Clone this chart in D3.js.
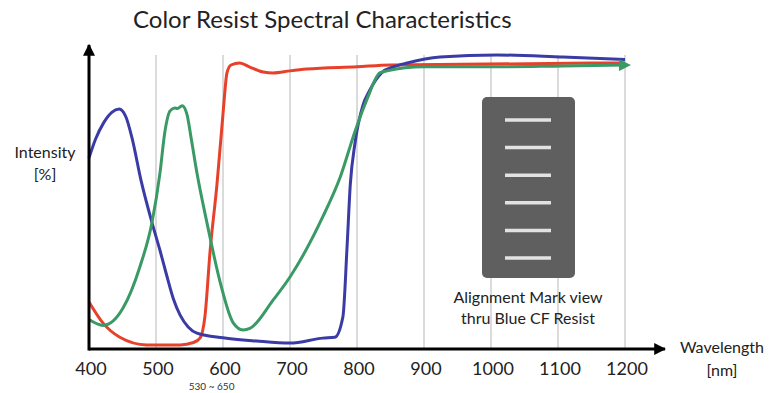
<!DOCTYPE html>
<html>
<head>
<meta charset="utf-8">
<script src="https://cdn.jsdelivr.net/npm/d3@7"></script>
<style>
  body { margin: 0; background: #fff; }
  svg { font-family: Lato, "Open Sans", sans-serif; }
</style>
</head>
<body>
<script>
// wavelengths in nm and intensities in %
const blueNm  = [400, 410, 422, 434, 445, 455, 464, 478, 494, 506, 516, 526, 536, 548, 561, 600, 650, 700, 749, 767, 779, 785, 790, 797, 809, 819, 837, 855, 875, 924, 1009, 1107, 1200]
const blueVal = [65, 71.5, 77, 80.5, 81.6, 79, 72, 57, 43, 33.5, 25, 17, 11.5, 7.5, 5.4, 3.8, 2.7, 2, 3.7, 4, 11, 34, 56, 70, 83, 88, 94, 96, 97.3, 99.3, 100, 99.3, 98.5]

const redNm  = [400, 421, 446, 486, 536, 556, 566, 573, 581, 591, 600, 606, 612, 625, 640, 660, 675, 700, 725, 800, 850, 1200]
const redVal = [16, 8.8, 4, 1.4, 1.4, 2.2, 3.8, 11, 34, 56, 80, 94, 96.6, 97.3, 95.9, 94.2, 93.9, 94.6, 95.2, 96, 96.6, 97.3]

const greenNm  = [400, 421, 451, 476, 494, 506, 513, 521, 528, 532, 539, 546, 553, 561, 576, 596, 615, 630, 640, 675, 700, 749, 775, 797, 815, 834, 845, 899, 1000, 1107, 1200]
const greenVal = [10, 8, 14, 28, 43, 60, 73.5, 81, 82, 81.8, 82.7, 80, 71, 60, 43, 22.5, 9, 6.5, 7, 16.7, 24.5, 45, 58.5, 74, 85, 93.9, 94.6, 96, 96, 96.3, 96.6]

const xTicks = [400, 500, 600, 700, 800, 900, 1000, 1100, 1200]
const markRows = [0, 1, 2, 3, 4, 5]

const W = 778, H = 393

const svg = d3.select("body").append("svg")
  .attr("width", W)
  .attr("height", H)

const x = d3.scaleLinear().domain([400, 1200]).range([89, 625])
const y = d3.scaleLinear().domain([0, 100]).range([349, 55])

const defs = svg.append("defs")
defs.append("marker")
  .attr("id", "axisArrow")
  .attr("viewBox", "0 0 10 10")
  .attr("refX", 9).attr("refY", 5)
  .attr("markerWidth", 4).attr("markerHeight", 4)
  .attr("orient", "auto")
  .append("path").attr("d", "M0,0L10,5L0,10z").attr("fill", "#000")
defs.append("marker")
  .attr("id", "greenArrow")
  .attr("viewBox", "0 0 10 10")
  .attr("refX", 5).attr("refY", 5)
  .attr("markerWidth", 4).attr("markerHeight", 4)
  .attr("orient", "auto")
  .append("path").attr("d", "M0,0L10,5L0,10z").attr("fill", "#3a9a66")

// title
svg.append("text")
  .attr("x", 133).attr("y", 28)
  .attr("font-size", 24)
  .attr("fill", "#222")
  .text("Color Resist Spectral Characteristics")

// vertical grid lines
svg.append("g").attr("class", "grid")
  .selectAll("line")
  .data(xTicks.slice(1))
  .enter().append("line")
    .attr("x1", d => x(d)).attr("x2", d => x(d))
    .attr("y1", y(100)).attr("y2", y(0))
    .attr("stroke", "#cfcfcf")
    .attr("stroke-width", 1.5)

// x tick labels
svg.append("g").attr("class", "ticks")
  .selectAll("text")
  .data(xTicks)
  .enter().append("text")
    .attr("x", d => x(d) + 2)
    .attr("y", 375)
    .attr("text-anchor", "middle")
    .attr("font-size", 18)
    .attr("fill", "#222")
    .text(d => d)

svg.append("text")
  .attr("x", x(583)).attr("y", 390)
  .attr("text-anchor", "middle")
  .attr("font-size", 10)
  .attr("fill", "#333")
  .text("530 ~ 650")

// alignment mark box
const box = svg.append("g").attr("class", "mark")
box.append("rect")
  .attr("x", 482).attr("y", 97)
  .attr("width", 93).attr("height", 181)
  .attr("rx", 5)
  .attr("fill", "#5f5f5f")
box.selectAll("line")
  .data(markRows)
  .enter().append("line")
    .attr("x1", 505).attr("x2", 551)
    .attr("y1", d => 120 + d * 27.6).attr("y2", d => 120 + d * 27.6)
    .attr("stroke", "#e2e2e2")
    .attr("stroke-width", 3.5)

svg.append("text")
  .attr("x", 528).attr("y", 303)
  .attr("text-anchor", "middle")
  .attr("font-size", 16)
  .attr("fill", "#222")
  .text("Alignment Mark view")
svg.append("text")
  .attr("x", 528).attr("y", 324)
  .attr("text-anchor", "middle")
  .attr("font-size", 16)
  .attr("fill", "#222")
  .text("thru Blue CF Resist")

// curves
const line = d3.line()
  .x(d => x(d[0]))
  .y(d => y(d[1]))
  .curve(d3.curveMonotoneX)

const series = [
  {name: "red",   nm: redNm,   val: redVal,   color: "#e8412b"},
  {name: "blue",  nm: blueNm,  val: blueVal,  color: "#3b3ba6"},
  {name: "green", nm: greenNm, val: greenVal, color: "#3a9a66"}
]

series.forEach(function(s){
  svg.append("path")
    .attr("class", s.name)
    .attr("d", line(d3.zip(s.nm, s.val)))
    .attr("fill", "none")
    .attr("stroke", s.color)
    .attr("stroke-width", 3)
    .attr("stroke-linejoin", "round")
    .attr("marker-end", s.name === "green" ? "url(#greenArrow)" : null)
})

// axes with arrows
svg.append("line")
  .attr("x1", x(400)).attr("x2", 665)
  .attr("y1", y(0)).attr("y2", y(0))
  .attr("stroke", "#000").attr("stroke-width", 3)
  .attr("marker-end", "url(#axisArrow)")
svg.append("line")
  .attr("x1", x(400)).attr("x2", x(400))
  .attr("y1", y(0) + 1.5).attr("y2", 45)
  .attr("stroke", "#000").attr("stroke-width", 3)
  .attr("marker-end", "url(#axisArrow)")

// axis labels
svg.append("text")
  .attr("x", 45).attr("y", 158)
  .attr("text-anchor", "middle")
  .attr("font-size", 16)
  .attr("fill", "#222")
  .text("Intensity")
svg.append("text")
  .attr("x", 45).attr("y", 180)
  .attr("text-anchor", "middle")
  .attr("font-size", 16)
  .attr("fill", "#222")
  .text("[%]")
svg.append("text")
  .attr("x", 722).attr("y", 353)
  .attr("text-anchor", "middle")
  .attr("font-size", 16)
  .attr("fill", "#222")
  .text("Wavelength")
svg.append("text")
  .attr("x", 722).attr("y", 376)
  .attr("text-anchor", "middle")
  .attr("font-size", 16)
  .attr("fill", "#222")
  .text("[nm]")
</script>
</body>
</html>
